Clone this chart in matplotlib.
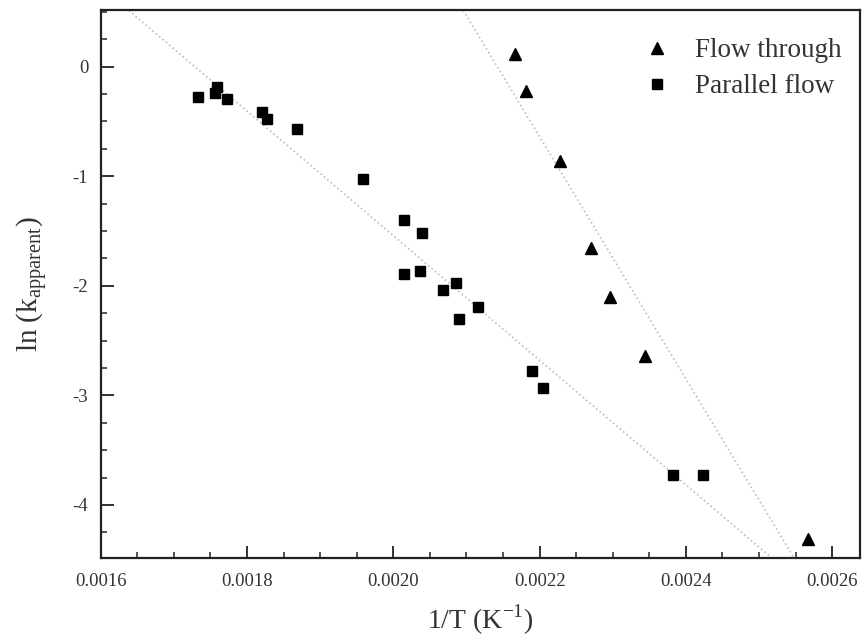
import numpy as np
import matplotlib
matplotlib.use("Agg")
import matplotlib.pyplot as plt
from matplotlib.ticker import MultipleLocator, FormatStrFormatter

# 1/T (K^-1) and ln(k_apparent)
flow_through_x = [0.002166, 0.002181, 0.002228, 0.002270, 0.002296, 0.002344, 0.002567]
flow_through_y = [0.116, -0.219, -0.858, -1.651, -2.099, -2.640, -4.312]

parallel_x = [0.001733, 0.001759, 0.001756, 0.001772, 0.001820, 0.001827, 0.001868,
              0.001959, 0.002015, 0.002039, 0.002015, 0.002036, 0.002068, 0.002086,
              0.002090, 0.002116, 0.002190, 0.002204, 0.002383, 0.002424]
parallel_y = [-0.274, -0.188, -0.243, -0.297, -0.411, -0.480, -0.571,
              -1.027, -1.399, -1.515, -1.891, -1.864, -2.037, -1.971,
              -2.305, -2.190, -2.776, -2.929, -3.723, -3.723]

# fitted lines (slope, intercept) as drawn in the picture
flow_through_fit = (-11050.0, 23.67)
parallel_fit = (-5684.4, 9.826)

plt.rcParams['font.family'] = ['Liberation Serif', 'DejaVu Serif']
plt.rcParams['axes.unicode_minus'] = False
plt.rcParams['mathtext.fontset'] = 'custom'
plt.rcParams['mathtext.rm'] = 'Liberation Serif'

txt = '#333333'

fig = plt.figure(figsize=(8.65, 6.43), dpi=100)
ax = fig.add_axes([0.1164, 0.1322, 0.8778, 0.8523])

xlim = (0.0016, 0.002638)
ylim = (-4.484, 0.517)

xs = np.array(xlim)
for slope, icpt in (parallel_fit, flow_through_fit):
    ax.plot(xs, slope * xs + icpt, linestyle=':', color='#bdbdbd', linewidth=1.2)

ax.plot(flow_through_x, flow_through_y, '^', color='black', markersize=8,
        linestyle='none', label='Flow through')
ax.plot(parallel_x, parallel_y, 's', color='black', markersize=6.5,
        linestyle='none', label='Parallel flow')

ax.set_xlim(xlim)
ax.set_ylim(ylim)

ax.xaxis.set_major_locator(MultipleLocator(0.0002))
ax.xaxis.set_minor_locator(MultipleLocator(0.00005))
ax.xaxis.set_major_formatter(FormatStrFormatter('%.4f'))
ax.yaxis.set_major_locator(MultipleLocator(1))
ax.yaxis.set_minor_locator(MultipleLocator(0.25))
ax.yaxis.set_major_formatter(FormatStrFormatter('%d'))

ax.tick_params(which='both', direction='in', top=False, right=False,
               colors='#222222', labelcolor=txt, labelsize=13.5)
ax.tick_params(which='major', length=9, width=1.3)
ax.tick_params(which='minor', length=4.5, width=1.1)
ax.tick_params(axis='x', pad=11)
ax.tick_params(axis='y', pad=9)

for sp in ax.spines.values():
    sp.set_linewidth(1.6)
    sp.set_color('#222222')

ax.set_xlabel('1/T (K$^{\\mathrm{-1}}$)', fontsize=20, color=txt, labelpad=9)
ax.set_ylabel('ln (k$_{\\mathrm{apparent}}$)', fontsize=21, color=txt, labelpad=16)

ax.legend(loc='upper right', bbox_to_anchor=(0.9895, 0.968), frameon=False,
          fontsize=19.5, labelcolor=txt, handletextpad=0.6, labelspacing=0.4,
          borderaxespad=0.0, borderpad=0.4, handlelength=1.6)

fig.savefig('out.png', dpi=100)
